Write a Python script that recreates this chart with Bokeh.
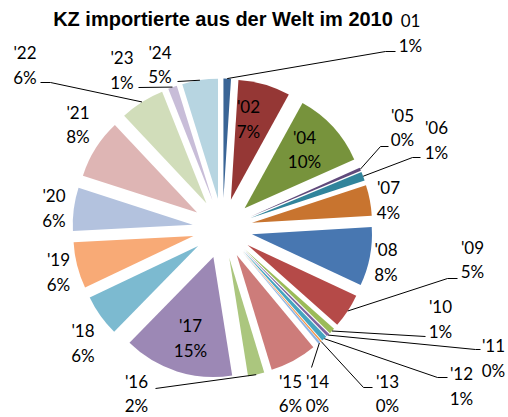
import math
from bokeh.plotting import figure
from bokeh.models import Range1d, ColumnDataSource
from bokeh.core.properties import value
from bokeh.embed import file_html
from bokeh.resources import INLINE

# ---------------- data ----------------
title_text = "KZ importierte aus der Welt im 2010"
categories = ["01", "'02", "'04", "'05", "'06", "'07", "'08", "'09", "'10", "'11", "'12",
              "'13", "'14", "'15", "'16", "'17", "'18", "'19", "'20", "'21", "'22", "'23", "'24"]
shares = [1.0, 7.0, 10.3, 0.4, 1.2, 4.1, 7.9, 4.6, 0.8, 0.4, 0.7,
          0.2, 0.3, 6.3, 2.2, 14.8, 5.6, 6.2, 5.8, 8.0, 6.0, 1.2, 4.8]

# ---------------- styles ----------------
colors = ["#3A6596", "#953735", "#77933C", "#604A7B", "#31849B", "#C8742F", "#4877B1",
          "#B54A48", "#9BBB59", "#7F63A1", "#45A5C0", "#F79646", "#8EB4E3",
          "#CD7C7A", "#ABC67E", "#9C88B5", "#7CBAD0", "#F8AA76", "#B3C2DE",
          "#DEB5B4", "#D1DDBA", "#C8BDD8", "#B7D5E1"]

W, H = 508, 417
CX, CY_PX = 222, 228     # pie centre in pixel coords (y down)
R = 120                  # slice radius
EXPL = 30                # explosion distance
LINE_GAP = 24.5          # spacing between label lines

# label block centres (pixel coords, y down) and leader polyline end points
label_pos = {
    "01": (410, 32.5), "'02": (248, 118.5), "'04": (304, 149), "'05": (402, 127),
    "'06": (436, 139.5), "'07": (388, 199.5), "'08": (385.5, 261.5), "'09": (472, 259),
    "'10": (440, 318.5), "'11": (493, 357.5), "'12": (461, 385.5), "'13": (387, 393),
    "'14": (317, 393), "'15": (290, 393), "'16": (136, 393), "'17": (190, 337.5),
    "'18": (82.5, 342.5), "'19": (58, 271.5), "'20": (53.5, 207.5), "'21": (77.5, 124),
    "'22": (24.5, 64.5), "'23": (121.5, 69.5), "'24": (159.5, 64),
}
leaders = {
    "01": [(385, 51), (395, 51)],
    "'05": [(380, 146), (388, 146)],
    "'06": [(412, 157), (420, 157)],
    "'09": [(447, 278), (457, 278)],
    "'10": [(425, 336)],
    "'11": [(475, 349), (480, 349)],
    "'12": [(437, 377), (447, 377)],
    "'13": [(363, 387), (372, 387)],
    "'14": [(311, 367)],
    "'16": [(155, 388)],
    "'22": [(50, 82), (40, 82)],
    "'23": [(138, 87)],
    "'24": [(177, 81)],
}

def yd(py):
    return H - py

total = sum(shares)
CY = yd(CY_PX)

wx, wy, sa, ea, mids = [], [], [], [], []
cum = 0.0
for s in shares:
    t1 = cum / total * 360.0
    cum += s
    t2 = cum / total * 360.0
    mid = math.radians((t1 + t2) / 2)
    mids.append(mid)
    wx.append(CX + EXPL * math.sin(mid))
    wy.append(CY + EXPL * math.cos(mid))
    sa.append(math.radians(90 - t2))
    ea.append(math.radians(90 - t1))

pct_labels = [f"{round(s / total * 100)}%" for s in shares]

src = ColumnDataSource(dict(x=wx, y=wy, sa=sa, ea=ea, color=colors, cat=categories))

p = figure(width=W, height=H, x_range=Range1d(0, W), y_range=Range1d(0, H),
           output_backend="svg", toolbar_location=None,
           x_axis_type=None, y_axis_type=None, min_border=0)
p.outline_line_color = None
p.background_fill_color = "white"
p.border_fill_color = "white"

p.wedge(x="x", y="y", radius=R, start_angle="sa", end_angle="ea",
        fill_color="color", line_color=None, source=src)

# leader lines
lxs, lys = [], []
for i, c in enumerate(categories):
    if c in leaders:
        sx = CX + (R + EXPL) * math.sin(mids[i])
        sy = CY + (R + EXPL) * math.cos(mids[i])
        xs = [sx] + [pt[0] for pt in leaders[c]]
        ys = [sy] + [yd(pt[1]) for pt in leaders[c]]
        lxs.append(xs)
        lys.append(ys)
p.multi_line(xs=lxs, ys=lys, line_color="black", line_width=1)

# labels
tx, ty, tt = [], [], []
for i, c in enumerate(categories):
    lx, ly = label_pos[c]
    tx += [lx, lx]
    ty += [yd(ly - LINE_GAP / 2), yd(ly + LINE_GAP / 2)]
    tt += [c, pct_labels[i]]
p.text(x=tx, y=ty, text=tt, text_font=value("Lato"), text_font_size="17px",
       text_align="center", text_baseline="middle", text_color="black")

# title
p.text(x=[222.5], y=[yd(18.5)], text=[title_text], text_font=value("Liberation Sans"),
       text_font_size="20px", text_font_style="bold", text_align="center",
       text_baseline="middle", text_color="black")

open("out.html", "w").write(file_html(p, INLINE))
